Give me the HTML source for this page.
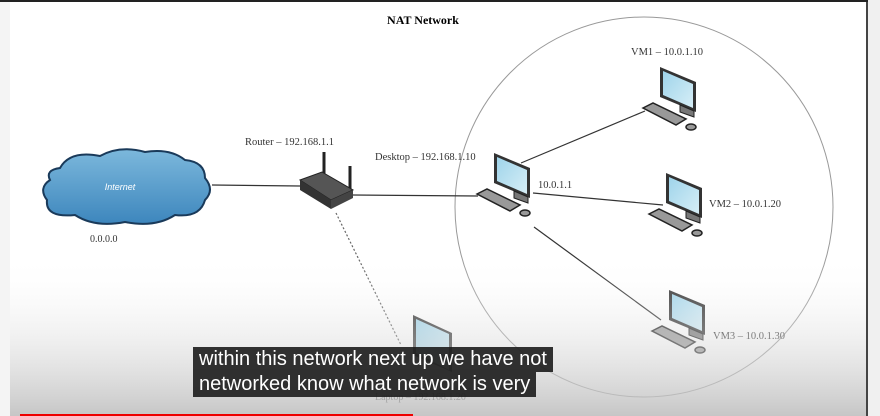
<!DOCTYPE html>
<html><head><meta charset="utf-8"><style>
html,body{margin:0;padding:0;}
body{width:880px;height:416px;overflow:hidden;background:#fff;position:relative;font-family:"Liberation Serif",serif;}
.sub{position:absolute;left:193px;background:rgba(28,28,28,0.9);color:#fff;font-family:"Liberation Sans",sans-serif;font-size:20px;line-height:25px;padding:0 6px;white-space:nowrap;}
</style></head><body>
<svg width="880" height="416" style="position:absolute;left:0;top:0">
<defs>
<linearGradient id="bg" x1="0" y1="0" x2="0" y2="1">
<stop offset="0" stop-color="#fff" stop-opacity="0"/>
<stop offset="1" stop-color="#bcbcbc" stop-opacity="0.85"/>
</linearGradient>
<linearGradient id="scr" x1="0" y1="0" x2="1" y2="1">
<stop offset="0" stop-color="#9fd4ea"/><stop offset="1" stop-color="#d6eef7"/>
</linearGradient>
<linearGradient id="cl" x1="0" y1="0" x2="0" y2="1">
<stop offset="0" stop-color="#7cb8dc"/><stop offset="1" stop-color="#3d86bd"/>
</linearGradient>
<g id="pc">
<polygon points="0,0 36,15 36,45 0,30" fill="#333"/>
<polygon points="3,4 33,17 33,41 3,28" fill="url(#scr)"/>
<polygon points="20,38 34,44 34,50 20,45" fill="#777" stroke="#222" stroke-width="1"/>
<polygon points="-17,41 -7,36 26,52 16,58" fill="#999" stroke="#222" stroke-width="1.5"/>
<ellipse cx="31" cy="60" rx="5" ry="3" fill="#999" stroke="#222" stroke-width="1.5"/>
</g>
</defs>
<rect x="0" y="0" width="10" height="416" fill="#f4f4f4"/>
<rect x="868" y="0" width="12" height="416" fill="#f0f0f0"/>
<rect x="866" y="0" width="2" height="416" fill="#444"/>
<rect x="0" y="0" width="868" height="2" fill="#222"/>
<text x="423" y="24" text-anchor="middle" font-size="12" font-weight="bold">NAT Network</text>
<ellipse cx="644" cy="207" rx="189" ry="190" fill="none" stroke="#999" stroke-width="1"/>
<g stroke="#333" stroke-width="1.2">
<line x1="212" y1="185" x2="300" y2="186"/>
<line x1="353" y1="195" x2="478" y2="196"/>
<line x1="521" y1="163" x2="645" y2="111"/>
<line x1="533" y1="193" x2="663" y2="205"/>
<line x1="534" y1="227" x2="661" y2="320"/>
<line x1="336" y1="213" x2="401" y2="345" stroke-dasharray="2,2" stroke="#666"/>
</g>
<path d="M60,168 Q70,150 100,156 Q120,145 145,152 Q170,148 185,160 Q205,162 205,178 Q215,190 205,200 Q200,218 175,215 Q155,228 125,222 Q95,228 75,215 Q45,218 47,200 Q38,188 50,180 Q45,170 60,168Z" fill="url(#cl)" stroke="#1a3a5a" stroke-width="2"/>
<text x="120" y="190" text-anchor="middle" font-size="9" font-style="italic" fill="#fff" font-family="Liberation Sans,sans-serif">Internet</text>
<text x="90" y="242" font-size="10" fill="#333">0.0.0.0</text>
<line x1="324" y1="152" x2="324" y2="180" stroke="#222" stroke-width="3"/>
<line x1="350" y1="166" x2="350" y2="192" stroke="#222" stroke-width="3"/>
<polygon points="300,180 322,172 353,190 331,200" fill="#555" stroke="#222"/>
<polygon points="300,180 331,200 331,209 300,190" fill="#333"/>
<polygon points="331,200 353,190 353,198 331,209" fill="#444"/>
<text x="245" y="145" font-size="10.5" fill="#333">Router – 192.168.1.1</text>
<text x="375" y="160" font-size="10.5" fill="#333">Desktop – 192.168.1.10</text>
<text x="538" y="188" font-size="10.5" fill="#333">10.0.1.1</text>
<text x="631" y="55" font-size="10.5" fill="#333">VM1 – 10.0.1.10</text>
<text x="709" y="207" font-size="10.5" fill="#333">VM2 – 10.0.1.20</text>
<text x="713" y="339" font-size="10.5" fill="#333">VM3 – 10.0.1.30</text>
<use href="#pc" x="494" y="153"/>
<use href="#pc" x="660" y="67"/>
<use href="#pc" x="666" y="173"/>
<use href="#pc" x="669" y="290"/>
<polygon points="413,315 452,333 452,372 413,355" fill="#333"/>
<polygon points="416,319 449,334 449,370 416,353" fill="url(#scr)"/>
<text x="375" y="400" font-size="10" fill="#333">Laptop – 192.168.1.20</text>
<rect x="10" y="255" width="856" height="161" fill="url(#bg)"/>
<rect x="20" y="414" width="393" height="2" fill="#e00"/>
</svg>
<div class="sub" style="top:347px;height:25px;">within this network next up we have not</div>
<div class="sub" style="top:372px;height:25px;">networked know what network is very</div>
</body></html>
